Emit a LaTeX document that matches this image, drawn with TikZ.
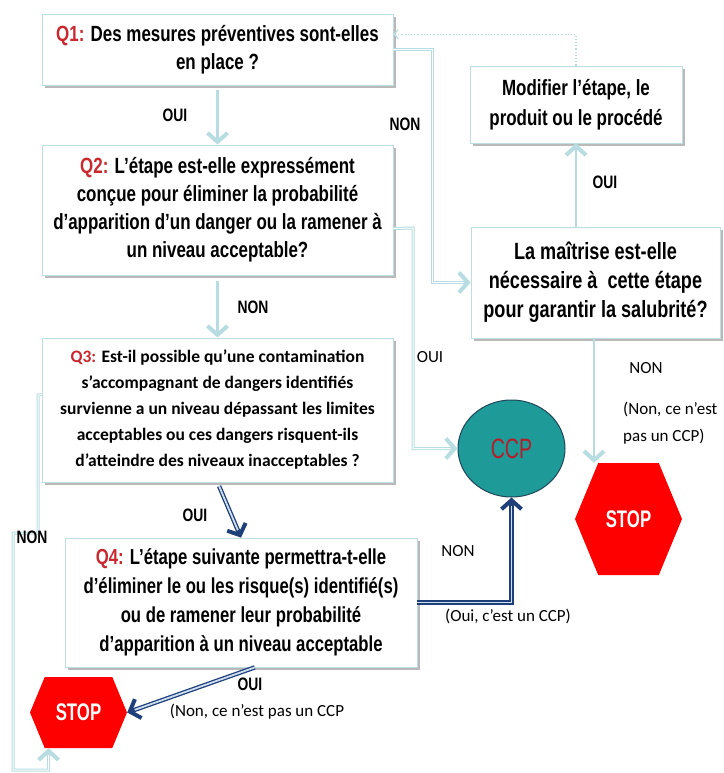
\documentclass[tikz,border=0pt]{standalone}
\usepackage{fontspec}
\setmainfont[FakeStretch=0.77]{Liberation Sans}
\newfontfamily\calib{Carlito}
\newfontfamily\narrowfont[FakeStretch=0.7]{Liberation Sans}
\usetikzlibrary{arrows.meta,shapes.geometric,shapes.symbols,shadows}

\definecolor{lite}{RGB}{183,221,226}
\definecolor{boxline}{RGB}{190,222,228}
\definecolor{qred}{RGB}{200,40,46}
\definecolor{dkblue}{RGB}{31,63,122}
\definecolor{pale}{RGB}{205,222,240}
\definecolor{ccpfill}{RGB}{30,154,153}
\definecolor{ccpline}{RGB}{30,70,90}
\definecolor{ccptext}{RGB}{180,30,40}
\definecolor{stopred}{RGB}{255,0,0}

\begin{document}
\begin{tikzpicture}[x=1pt, y=-1pt,
    box/.style={draw=boxline, line width=0.8pt, fill=white, inner sep=0pt, align=center,
        drop shadow={shadow xshift=2.5pt, shadow yshift=-3pt, fill=black!50, opacity=0.55},
        font=\bfseries\fontsize{22}{28}\selectfont},
    stopsign/.style={signal, signal to=east and west, signal pointer angle=135, fill=stopred,
        text=white, inner sep=0pt, font=\narrowfont\bfseries\fontsize{24}{24}\selectfont},
    lbl/.style={inner sep=0pt, font=\bfseries\fontsize{18}{18}\selectfont},
    clbl/.style={inner sep=0pt, align=left, font=\calib\fontsize{17}{27}\selectfont},
    litearrow/.style={draw=lite, line width=2.2pt, -{Straight Barb[length=9pt,width=20pt,line width'=4pt]}},
    litedbl/.style={draw=lite, line width=3pt, -{Straight Barb[length=9pt,width=20pt,line width'=4pt]},
        postaction={draw=white, line width=1pt, -, shorten >=7pt}},
    dkarrow/.style={draw=dkblue, line width=4.4pt, -{Straight Barb[length=9pt,width=20pt,line width'=4pt]},
        postaction={draw=pale, line width=1.8pt, -, shorten >=8pt}}]

    \fill[white] (0,0) rectangle (723,773);
    \useasboundingbox (0,0) rectangle (723,773);

    % questions
    \node[box, minimum width=351pt, minimum height=71pt] (q1) at (217.5,49.5)
        {{\color{qred}Q1:} Des mesures préventives sont-elles\\en place ?};
    \node[box, minimum width=351pt, minimum height=130pt] (q2) at (217.5,210)
        {{\color{qred}Q2:} L’étape est-elle expressément\\conçue pour éliminer la probabilité\\d'apparition d'un danger ou la ramener à\\un niveau acceptable?};
    \node[box, minimum width=351pt, minimum height=144pt, font=\calib\bfseries\fontsize{17.5}{26}\selectfont] (q3) at (217.5,410)
        {{\color{qred}Q3:} Est-il possible qu’une contamination\\s’accompagnant de dangers identifiés\\survienne a un niveau dépassant les limites\\acceptables ou ces dangers risquent-ils\\d’atteindre des niveaux inacceptables ?};
    \node[box, minimum width=352pt, minimum height=129pt, font=\bfseries\fontsize{21.7}{29}\selectfont] (q4) at (241,602.5)
        {{\color{qred}Q4:} L’étape suivante permettra-t-elle\\d’éliminer le ou les risque(s) identifié(s)\\ou de ramener leur probabilité\\d’apparition à un niveau acceptable};

    % right side
    \node[box, minimum width=212pt, minimum height=77pt, font=\bfseries\fontsize{22}{30}\selectfont] (modif) at (576,104.5)
        {Modifier l’étape, le\\produit ou le procédé};
    \node[box, minimum width=249pt, minimum height=111pt, font=\bfseries\fontsize{23.5}{29}\selectfont] (maitrise) at (595.5,282.5)
        {La maîtrise est-elle\\nécessaire à~ cette étape\\pour garantir la salubrité?};
    \node[ellipse, fill=ccpfill, draw=ccpline, line width=1pt, minimum width=107pt, minimum height=97pt,
        text=ccptext, font=\narrowfont\fontsize{28}{28}\selectfont] (ccp) at (511.5,448.5) {CCP};
    \node[stopsign, minimum width=107pt, minimum height=112pt] (stopr) at (628.5,519) {STOP};
    \node[stopsign, minimum width=97pt, minimum height=71pt] (stopl) at (78.5,712.5) {STOP};

    % connectors
    \draw[litearrow, shorten <=5pt] (q1.south) -- (q2.north);
    \draw[litearrow, shorten <=6pt] (q2.south) -- (q3.north);
    \draw[litedbl] (q1.east) -- (432,49.5) |- (maitrise.west);
    \draw[litedbl] (q2.-6) -- (413,228) |- (ccp.west);
    \draw[litearrow] (modif.south |- maitrise.north) -- (modif.south);
    \draw[draw=lite, line width=1.2pt, dotted, -{Straight Barb[length=4pt,width=9pt,line width'=1.2pt]}]
        (modif.north) |- (q1.5);
    \draw[litearrow] (maitrise.south -| 594,0) -- (594,0 |- stopr.north);
    \draw[litedbl] (q3.175) -- (38,395) -- (38,533) -- (13,533) -- (13,770) -| (stopl.-130);
    \draw[dkarrow, shorten <=4pt] (q3.south) -- (q4.north);
    \draw[dkarrow] (q4.east) -| (ccp.south);
    \draw[dkarrow] (q4.282) -- (stopl.east);

    % labels
    \node[lbl] (oui1) at (175,115) {OUI};
    \node[lbl] (non1) at (405,124) {NON};
    \node[lbl] (non2) at (253,307) {NON};
    \node[clbl] (oui2) at (430,357) {OUI};
    \node[lbl] (oui3) at (605,182) {OUI};
    \node[clbl] (non3) at (646,368) {NON};
    \node[clbl, anchor=west] (pasccp1) at (623,423) {(Non, ce n’est\\pas un CCP)};
    \node[lbl] (oui4) at (195,515) {OUI};
    \node[lbl] (non4) at (32,537) {NON};
    \node[clbl] (non5) at (458,551) {NON};
    \node[clbl] (estccp) at (508,616) {(Oui, c’est un CCP)};
    \node[lbl] (oui5) at (250,684) {OUI};
    \node[clbl] (pasccp2) at (257,712) {(Non, ce n’est pas un CCP};
\end{tikzpicture}
\end{document}
